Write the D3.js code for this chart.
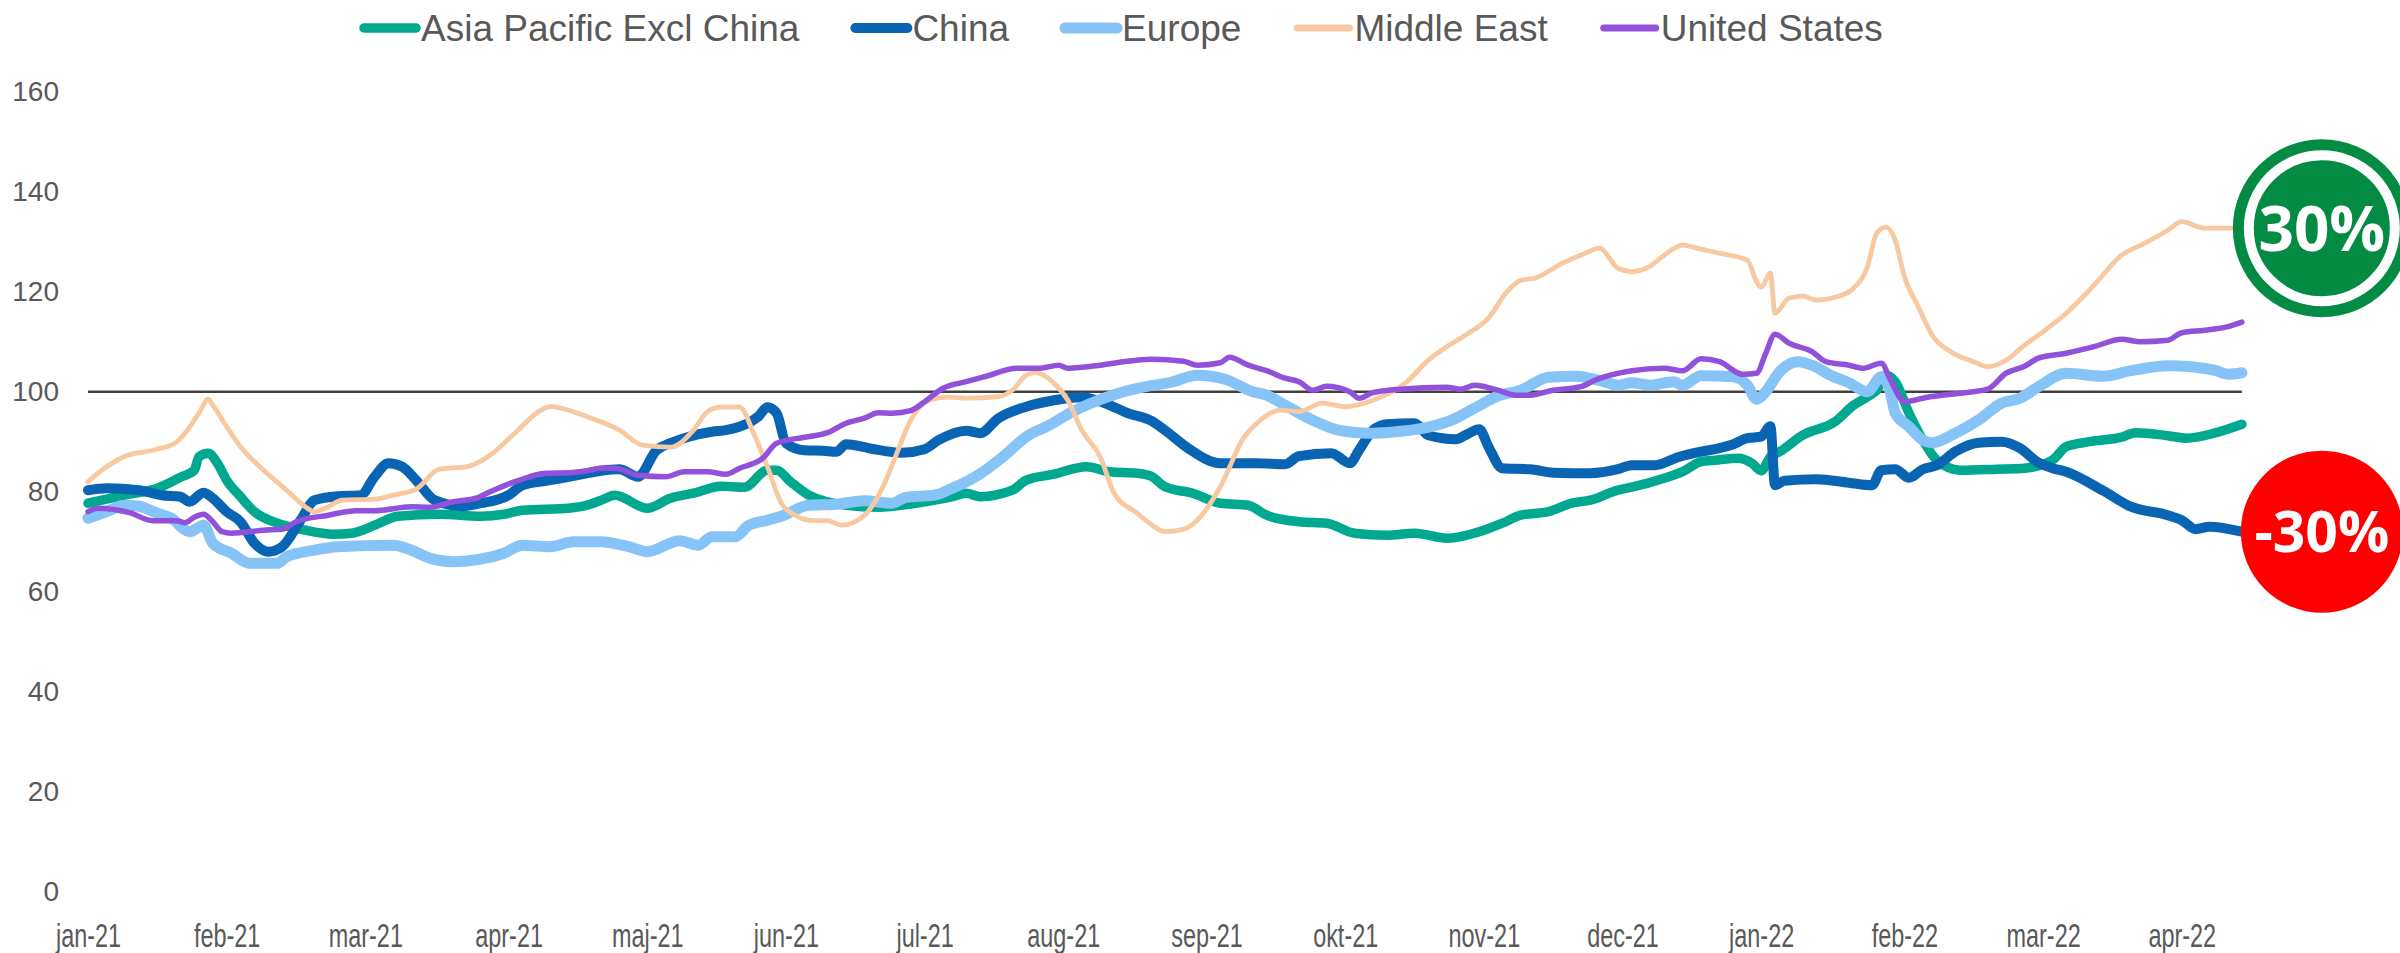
<!DOCTYPE html>
<html lang="da">
<head>
<meta charset="UTF-8">
<title>Index by region</title>
<script src="https://d3js.org/d3.v7.min.js"></script>
<style>
  body { margin: 0; background: #fff; }
  svg { display: block; font-family: "Liberation Sans", Arial, sans-serif; }
  .axis text { fill: #595959; }
  .legend text { fill: #595959; }
  .badge text { font-family: "Open Sans", sans-serif; font-weight: 700; fill: #fff; }
</style>
</head>
<body>
<svg id="chart"></svg>
<script>
// day offsets are counted from startDate
const startDate = "2021-01-01";

const seriesNames = ["Asia Pacific Excl China", "China", "Europe", "Middle East", "United States"];
const seriesColors = ["#00A88F", "#0A64B4", "#86C3F7", "#F8C8A0", "#9151DB"];
const seriesWidths = [9.5, 10, 11, 4.8, 5.5];

const asiaPacific = [[0,77.7],[5,78.7],[9,79.5],[15,80.7],[20,82.9],[23,84.3],[24,87],[26,87.7],[28,85.7],[30,82.3],[33,79],[36,76],[41,73.7],[47,72.3],[53,71.5],[57,71.7],[62,73.3],[67,75.1],[76,75.5],[85,75.1],[90,75.5],[94,76.3],[104,76.7],[108,77.3],[111,78.3],[114,79.3],[121,76.7],[126,78.7],[131,79.7],[137,81.1],[142,80.9],[147,84.3],[149,84.3],[152,82],[156,79.3],[164,77.3],[171,76.9],[179,77.7],[187,79],[190,79.7],[193,79],[200,80.3],[203,82.3],[209,83.5],[216,85],[221,84],[227,83.7],[230,83.1],[233,81],[239,79.7],[245,77.7],[251,77.3],[255,75.3],[262,74],[268,73.7],[274,71.7],[281,71.3],[287,71.7],[294,70.7],[302,72.3],[306,73.7],[310,75.3],[316,76],[321,77.7],[325,78.3],[331,80.3],[334,80.9],[341,82.7],[345,84],[349,86],[352,86.3],[357,86.7],[360,85.7],[362,84.2],[364,87],[366,88],[371,91.3],[378,94],[382,97.3],[385,99],[387,100.3],[389,103.3],[391,102],[394,95.7],[397,90.3],[400,86.3],[405,84.3],[413,84.5],[419,84.7],[425,86.3],[428,89],[433,90],[440,90.9],[443,91.8],[450,91.2],[454,90.7],[460,91.7],[466,93.5]];

const china = [[0,80.3],[4,80.7],[11,80.3],[16,79.3],[20,79],[22,78],[25,79.8],[27,78.7],[30,76],[33,74],[36,69.7],[39,68],[42,69],[46,74.3],[49,78.3],[54,79.1],[59,79.3],[62,83],[65,85.7],[68,85],[71,82.3],[75,78.3],[81,77.1],[85,77.7],[91,79.3],[94,81.3],[100,82.3],[106,83.3],[111,84.2],[115,84.5],[119,83],[123,88.3],[126,89.7],[130,91],[135,92],[138,92.3],[143,93.8],[145,95],[147,96.9],[149,95.7],[151,89.7],[155,88.3],[159,88.2],[162,88],[164,89.5],[169,88.7],[176,87.8],[181,88.5],[184,90.3],[190,92.2],[193,91.7],[197,94.7],[203,97],[209,98.3],[215,98.9],[220,97.7],[225,95.7],[230,94.2],[233,92.3],[238,88.7],[245,85.7],[253,85.7],[259,85.5],[262,87.1],[269,87.7],[273,85.7],[275,88.3],[278,92.3],[281,93.5],[287,93.7],[290,91.3],[296,90.5],[298,91.3],[301,92.5],[303,89],[306,84.7],[312,84.5],[317,83.8],[325,83.7],[331,84.5],[334,85.3],[339,85.3],[344,86.9],[349,88],[353,88.7],[356,89.5],[359,90.7],[362,91],[364,93.1],[365,81.3],[367,82.2],[374,82.5],[381,81.8],[386,81.3],[388,84.3],[391,84.5],[394,82.8],[397,84.5],[400,85.3],[404,88],[409,89.8],[414,90],[418,88.7],[422,85.8],[425,84.7],[428,84],[436,80.2],[442,77],[450,75.3],[453,74.3],[456,72.5],[459,73],[466,72]];

const europe = [[0,74.7],[4,76],[8,77.3],[11,77.1],[15,75.7],[18,74.7],[22,72],[25,73.3],[27,69.7],[31,67.7],[35,65.7],[41,65.7],[43,67],[49,68.3],[54,69],[66,69.3],[70,68.3],[74,66.7],[79,66],[85,66.5],[90,67.7],[94,69.3],[100,69],[105,70],[111,70],[117,69],[121,68],[128,70.2],[132,69.3],[135,71],[140,71],[143,73.3],[147,74.3],[150,75.1],[156,77.3],[162,77.5],[168,78.2],[174,77.7],[177,78.9],[183,79.3],[187,80.7],[192,83],[198,87],[203,91],[208,93.3],[213,96],[217,97.7],[223,99.7],[230,101.2],[234,101.8],[240,103.3],[246,102.5],[252,100],[255,99.3],[259,97.3],[265,94.3],[271,92.2],[277,91.7],[283,92],[289,92.7],[295,94.3],[300,96.7],[305,99.1],[310,100.3],[316,102.9],[322,103.1],[328,102],[331,101.3],[334,101.8],[338,101.3],[343,102],[345,101.3],[349,103.2],[356,103],[359,101.3],[361,98.5],[363,100],[366,104],[370,106],[373,105.3],[377,103.3],[381,101.8],[385,100],[388,103],[390,99.7],[391,95.7],[394,93],[397,90.3],[399,89.8],[404,91.7],[409,94.3],[414,97.7],[418,98.7],[422,101],[428,103.7],[436,103.1],[442,104.2],[450,105.2],[455,105],[460,104.3],[463,103.5],[466,103.8]];

const middleEast = [[0,82],[3,84.3],[8,87.1],[14,88.3],[19,89.8],[21,91.7],[24,95.7],[26,98.5],[27,97.3],[30,93],[33,89],[38,84.3],[43,80.3],[47,77],[49,76],[52,77],[55,78.3],[62,78.5],[66,79.3],[71,80.5],[76,84.5],[82,85],[87,87.3],[93,92.3],[98,96.3],[100,97],[105,96],[108,95],[115,92.3],[120,89.3],[126,88.9],[131,92.3],[134,96],[137,96.9],[141,96.9],[144,91.7],[147,85],[150,77.7],[153,75.3],[157,74.2],[160,74.2],[163,73.3],[168,75.3],[172,81],[175,87.7],[178,94.3],[182,98.3],[186,98.9],[190,98.7],[197,99],[200,100.3],[203,103.3],[205,103.8],[209,101.7],[212,98.3],[215,92.3],[219,87],[222,79.7],[227,75.7],[230,73.5],[233,72],[237,72.5],[240,74.3],[245,81],[250,90.7],[253,93.8],[258,96.3],[262,96],[267,97.7],[272,97],[278,98.3],[285,101.7],[290,106.3],[294,109],[298,111.3],[303,114.7],[307,120],[310,122.3],[313,122.7],[319,125.7],[324,127.7],[327,128.7],[331,124.7],[334,124],[338,125.1],[341,127.3],[345,129.3],[349,128.5],[353,127.7],[359,126.3],[361,122],[362,120.9],[364,123.7],[365,115.7],[368,118.7],[371,119.1],[374,118.3],[378,118.9],[382,120.7],[385,125],[387,131.7],[389,132.9],[391,130.3],[393,123],[396,117],[399,111.3],[403,108],[408,106],[411,105],[415,106.3],[419,109.3],[423,112],[428,115.7],[434,121.3],[440,127.3],[445,129.7],[450,132.3],[453,134],[458,132.7],[463,132.7],[466,132.7]];

const unitedStates = [[0,76],[2,76.7],[9,75.8],[14,74.2],[19,74.2],[21,73.8],[23,74.9],[25,75.5],[27,74],[29,72],[31,71.7],[38,72.3],[42,72.5],[45,74],[52,75.3],[58,76.2],[62,76.2],[70,77],[74,76.9],[79,78],[84,78.7],[87,80],[93,82.2],[99,83.7],[104,83.8],[108,84.2],[111,84.7],[114,84.7],[119,83.3],[125,83],[129,84],[134,84],[138,83.5],[141,84.7],[146,86.7],[149,89.7],[155,90.9],[160,91.8],[164,93.7],[168,94.7],[171,95.8],[174,95.7],[178,96.2],[181,98],[185,100.7],[190,102],[194,103],[201,104.7],[206,104.7],[210,105.3],[212,104.7],[219,105.3],[224,106],[230,106.5],[237,106.1],[240,105.3],[245,105.8],[247,106.9],[251,105.3],[255,104.2],[259,102.7],[262,102],[265,100.3],[268,101.1],[273,100],[275,98.7],[278,99.8],[284,100.5],[294,100.9],[297,100.5],[300,101.3],[305,100.3],[309,99.3],[312,99.3],[317,100.3],[323,101],[326,102.3],[334,104.2],[341,104.7],[345,104.2],[349,106.6],[353,106],[358,103.5],[361,103.7],[363,107.7],[365,111.5],[368,109.7],[373,108],[376,106],[381,105.3],[384,104.7],[388,105.7],[390,102.3],[393,98],[398,98.9],[406,99.8],[411,100.5],[415,103.7],[419,105.1],[422,106.7],[428,107.7],[434,109],[440,110.5],[444,110],[450,110.3],[453,111.8],[458,112.3],[463,113],[466,113.9]];

// category labels sit at a fixed step of about 30 days along the date axis
const monthLabels = ["jan-21","feb-21","mar-21","apr-21","maj-21","jun-21","jul-21","aug-21","sep-21","okt-21","nov-21","dec-21","jan-22","feb-22","mar-22","apr-22"];
const labelStepDays = 30.2;
const yTicks = [0, 20, 40, 60, 80, 100, 120, 140, 160];
const baseline = 100;
const badgeUp = "30%";
const badgeDown = "-30%";

const W = 2400, H = 953;
const svg = d3.select("#chart").attr("width", W).attr("height", H);

const parse = d3.timeParse("%Y-%m-%d");
const t0 = parse(startDate);
const toPoints = arr => arr.map(d => ({ date: d3.timeDay.offset(t0, d[0]), value: d[1] }));
const allSeries = [asiaPacific, china, europe, middleEast, unitedStates].map(toPoints);

const labelDates = monthLabels.map((_, i) => d3.timeDay.offset(t0, Math.round(i * labelStepDays)));

const x = d3.scaleTime()
    .domain([t0, d3.timeDay.offset(t0, 455)])
    .range([88, 2191]);
const y = d3.scaleLinear().domain([0, 160]).range([891.7, 91.7]);

// y axis
svg.append("g")
    .attr("class", "axis")
    .attr("transform", "translate(88,0)")
    .call(d3.axisLeft(y).tickValues(yTicks).tickSize(0).tickPadding(29))
    .call(g => g.select(".domain").remove())
    .selectAll("text").style("font-size", "28px");

// x axis, labels squeezed a bit like the narrow font of the original
svg.append("g")
    .attr("class", "axis")
    .attr("transform", `translate(0,${y(0)})`)
    .call(d3.axisBottom(x).tickValues(labelDates).tickFormat((d, i) => monthLabels[i]).tickSize(0).tickPadding(32))
    .call(g => g.select(".domain").remove())
    .selectAll("text")
    .style("font-size", "33px")
    .each(function () {
        const w = this.getComputedTextLength();
        d3.select(this).attr("textLength", w * 0.71).attr("lengthAdjust", "spacingAndGlyphs");
    });

// reference line at 100
const first = allSeries[0][0].date;
const last = allSeries[0][allSeries[0].length - 1].date;
svg.append("line")
    .attr("x1", x(first)).attr("x2", x(last))
    .attr("y1", y(baseline)).attr("y2", y(baseline))
    .attr("stroke", "#404040").attr("stroke-width", 2.5);

const line = d3.line()
    .x(d => x(d.date))
    .y(d => y(d.value))
    .curve(d3.curveMonotoneX);

svg.append("g").selectAll("path")
    .data(allSeries)
    .join("path")
    .attr("d", line)
    .attr("fill", "none")
    .attr("stroke", (d, i) => seriesColors[i])
    .attr("stroke-width", (d, i) => seriesWidths[i])
    .attr("stroke-linejoin", "round")
    .attr("stroke-linecap", "round");

// legend
const legend = svg.append("g").attr("class", "legend").attr("transform", "translate(360,28)");
let lx = 0;
seriesNames.forEach((name, i) => {
    const item = legend.append("g").attr("transform", `translate(${lx},0)`);
    item.append("line")
        .attr("x1", 4).attr("x2", 56).attr("y1", 0).attr("y2", 0)
        .attr("stroke", seriesColors[i])
        .attr("stroke-width", Math.max(seriesWidths[i], 7))
        .attr("stroke-linecap", "round");
    const txt = item.append("text")
        .attr("x", 61).attr("dy", "0.35em")
        .style("font-size", "37px")
        .text(name);
    lx += 61 + txt.node().getComputedTextLength() + 52;
});

// badges at the ends of Middle East and China
function badge(points, label, color, r, ring, size) {
    const p = points[points.length - 1];
    const g = svg.append("g").attr("class", "badge")
        .attr("transform", `translate(${x(p.date) + 80},${y(p.value)})`);
    g.append("circle").attr("r", r).attr("fill", color);
    if (ring) {
        g.append("circle").attr("r", r - 16).attr("fill", "none")
            .attr("stroke", "#fff").attr("stroke-width", 10);
    }
    g.append("text")
        .attr("text-anchor", "middle")
        .attr("dy", "0.36em")
        .style("font-size", size + "px")
        .text(label);
}
badge(allSeries[3], badgeUp, "#038A43", 89, true, 62);
badge(allSeries[1], badgeDown, "#FF0000", 81, false, 57);
</script>
</body>
</html>
